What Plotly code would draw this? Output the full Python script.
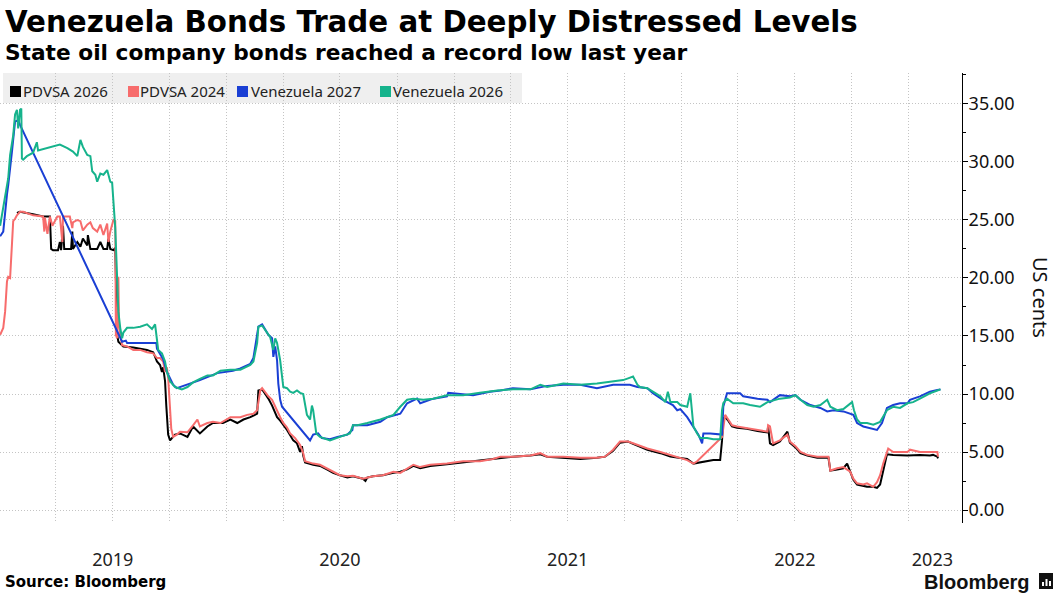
import plotly.graph_objects as go

# ---------------- data ----------------
ven26_dates = ["2019-01-02","2019-01-10","2019-01-15","2019-01-18","2019-01-23","2019-01-26","2019-01-29","2019-01-31","2019-02-03","2019-02-05","2019-02-06","2019-02-08","2019-02-14","2019-02-24","2019-03-02","2019-03-04","2019-03-19","2019-03-23","2019-04-08","2019-04-20","2019-04-29","2019-05-06","2019-05-11","2019-05-15","2019-05-22","2019-05-27","2019-05-30","2019-06-04","2019-06-07","2019-06-12","2019-06-17","2019-06-23","2019-06-25","2019-06-28","2019-07-01","2019-07-03","2019-07-06","2019-07-09","2019-07-11","2019-07-14","2019-07-17","2019-07-19","2019-07-25","2019-08-04","2019-08-15","2019-08-26","2019-09-03","2019-09-08","2019-09-11","2019-09-13","2019-09-19","2019-09-24","2019-09-27","2019-10-02","2019-10-10","2019-10-21","2019-10-30","2019-11-08","2019-11-19","2019-12-01","2019-12-10","2019-12-22","2020-01-07","2020-01-23","2020-02-08","2020-02-13","2020-02-19","2020-02-21","2020-02-27","2020-03-03","2020-03-11","2020-03-16","2020-03-19","2020-03-22","2020-03-27","2020-04-01","2020-04-07","2020-04-12","2020-04-17","2020-04-23","2020-04-28","2020-05-03","2020-05-09","2020-05-14","2020-05-17","2020-05-19","2020-05-24","2020-05-30","2020-06-15","2020-07-01","2020-07-17","2020-07-22","2020-07-29","2020-08-14","2020-09-04","2020-09-25","2020-10-06","2020-10-17","2020-10-27","2020-11-12","2020-11-28","2020-12-20","2021-01-15","2021-02-11","2021-03-11","2021-04-05","2021-05-03","2021-05-19","2021-05-30","2021-06-25","2021-07-22","2021-08-18","2021-09-13","2021-09-29","2021-10-07","2021-10-15","2021-10-22","2021-10-26","2021-11-07","2021-11-16","2021-11-28","2021-12-06","2021-12-10","2021-12-14","2021-12-25","2021-12-30","2022-01-10","2022-01-15","2022-01-18","2022-01-20","2022-01-26","2022-01-31","2022-02-11","2022-02-21","2022-03-04","2022-03-07","2022-03-09","2022-03-15","2022-03-25","2022-04-10","2022-04-21","2022-05-07","2022-05-19","2022-06-08","2022-06-24","2022-07-03","2022-07-11","2022-07-22","2022-08-01","2022-08-12","2022-08-23","2022-08-28","2022-09-08","2022-09-18","2022-10-02","2022-10-05","2022-10-10","2022-10-15","2022-10-26","2022-11-05","2022-11-16","2022-11-27","2022-12-07","2022-12-18","2022-12-30","2023-01-08","2023-01-19","2023-02-04","2023-02-16","2023-02-21"]
ven26_vals = [24.5,27.2,28.6,30.6,32.3,34.1,34.5,32.9,34.5,34.6,30.3,30.2,30.5,30.8,31.7,31.0,31.2,31.3,31.5,31.2,30.9,30.5,31.9,31.3,30.6,30.5,29.2,28.9,28.3,29.0,28.9,29.3,28.9,28.3,28.2,26.3,24.3,20.0,17.1,15.7,14.8,15.3,15.7,15.7,15.8,16.0,15.6,16.0,14.5,13.8,13.5,12.8,11.9,11.1,10.6,10.4,10.6,11.0,11.3,11.6,11.6,12.0,12.1,12.1,12.5,12.8,14.4,15.8,15.9,15.5,14.9,13.8,14.8,14.4,12.9,10.6,10.5,10.2,10.1,10.3,10.1,10.0,8.2,7.8,9.0,8.6,6.6,6.3,6.0,6.3,6.6,7.3,7.3,7.5,7.8,8.2,8.9,9.5,9.6,9.5,9.6,9.9,9.9,10.1,10.3,10.4,10.4,10.8,10.6,10.9,10.8,10.9,11.1,11.2,11.35,11.5,10.8,10.6,10.5,10.2,9.8,9.3,10.2,9.3,9.3,9.05,8.9,10.06,8.6,7.2,6.6,6.2,6.2,6.1,6.1,8.6,9.2,9.6,9.2,9.2,9.05,8.9,9.3,9.6,9.7,9.9,9.5,9.05,8.9,9.05,9.5,8.9,8.6,8.7,9.3,8.6,7.8,7.5,7.5,7.35,7.6,8.6,8.9,8.8,9.2,9.3,9.6,10.06,10.3,10.4]

ven27_dates = ["2019-01-02","2019-01-07","2019-01-13","2019-01-15","2019-01-21","2019-01-26","2019-01-31","2019-02-03","2019-07-17","2019-07-23","2019-07-25","2019-09-10","2019-09-11","2019-09-16","2019-09-21","2019-09-27","2019-10-02","2019-10-07","2019-10-13","2019-10-30","2019-11-19","2019-12-17","2020-01-11","2020-01-23","2020-02-08","2020-02-13","2020-02-19","2020-02-21","2020-02-27","2020-03-03","2020-03-08","2020-03-14","2020-03-16","2020-03-19","2020-03-22","2020-03-24","2020-03-27","2020-03-30","2020-05-14","2020-05-19","2020-05-27","2020-06-02","2020-06-15","2020-06-27","2020-07-13","2020-07-21","2020-07-22","2020-08-14","2020-09-04","2020-09-15","2020-10-06","2020-10-17","2020-11-02","2020-11-07","2020-11-28","2020-12-20","2020-12-22","2021-01-31","2021-02-27","2021-03-16","2021-04-05","2021-05-03","2021-05-30","2021-06-25","2021-07-22","2021-08-18","2021-09-13","2021-10-10","2021-10-22","2021-11-07","2021-11-16","2021-12-02","2021-12-18","2021-12-25","2021-12-30","2022-01-10","2022-01-20","2022-01-28","2022-02-03","2022-02-05","2022-02-16","2022-03-04","2022-03-07","2022-03-09","2022-03-15","2022-04-05","2022-04-10","2022-05-03","2022-05-19","2022-05-23","2022-06-08","2022-06-24","2022-07-03","2022-07-11","2022-07-27","2022-08-12","2022-08-23","2022-09-02","2022-09-18","2022-10-04","2022-10-10","2022-10-20","2022-10-31","2022-11-11","2022-11-19","2022-11-27","2022-12-07","2022-12-18","2022-12-30","2023-01-03","2023-01-19","2023-02-04","2023-02-16","2023-02-21"]
ven27_vals = [23.6,24.0,27.2,28.0,30.9,33.5,33.6,33.2,14.5,14.6,14.4,14.4,13.9,13.5,13.0,11.9,11.4,10.8,10.5,10.8,11.2,11.8,12.0,12.2,12.6,13.1,15.2,15.8,16.0,15.5,15.1,14.8,13.2,14.1,12.9,10.9,9.5,8.9,6.0,6.5,6.6,6.2,6.1,6.3,6.5,6.9,7.3,7.3,7.6,8.0,8.3,9.2,9.6,9.2,9.6,9.8,10.1,9.9,10.2,10.3,10.5,10.4,10.7,10.8,10.8,10.5,10.8,10.8,10.6,10.5,10.06,9.5,9.05,8.6,8.7,8.0,7.2,6.5,5.75,6.6,6.6,6.5,6.5,8.9,10.06,10.06,9.8,9.6,9.5,9.3,9.9,9.8,9.9,9.5,9.05,8.8,8.5,8.6,8.5,8.2,7.5,7.2,7.05,6.9,7.5,8.8,9.05,9.2,9.2,9.5,9.8,10.2,10.35,10.4]

pdvsa24_dates = ["2019-01-02","2019-01-07","2019-01-10","2019-01-13","2019-01-15","2019-01-18","2019-01-21","2019-01-23","2019-01-26","2019-01-29","2019-02-03","2019-02-08","2019-02-24","2019-03-12","2019-03-14","2019-03-15","2019-03-19","2019-03-23","2019-03-27","2019-04-04","2019-04-08","2019-04-12","2019-04-13","2019-04-24","2019-04-28","2019-04-29","2019-05-06","2019-05-11","2019-05-15","2019-05-22","2019-05-27","2019-05-31","2019-06-07","2019-06-12","2019-06-17","2019-06-23","2019-06-25","2019-06-28","2019-07-03","2019-07-06","2019-07-07","2019-07-09","2019-07-11","2019-07-12","2019-07-14","2019-07-17","2019-07-25","2019-08-04","2019-08-15","2019-08-26","2019-09-05","2019-09-11","2019-09-16","2019-09-21","2019-09-24","2019-09-27","2019-09-29","2019-10-02","2019-10-04","2019-10-07","2019-10-13","2019-10-18","2019-10-30","2019-11-08","2019-11-15","2019-11-19","2019-12-01","2019-12-10","2019-12-22","2020-01-07","2020-01-23","2020-02-03","2020-02-13","2020-02-19","2020-02-24","2020-02-27","2020-03-03","2020-03-08","2020-03-14","2020-03-19","2020-03-27","2020-04-01","2020-04-07","2020-04-12","2020-04-20","2020-04-28","2020-05-03","2020-05-06","2020-05-19","2020-05-30","2020-06-10","2020-06-20","2020-07-01","2020-07-13","2020-07-22","2020-08-07","2020-08-23","2020-09-08","2020-09-25","2020-10-06","2020-10-17","2020-10-27","2020-11-07","2020-11-23","2020-12-20","2021-01-15","2021-02-11","2021-03-04","2021-03-16","2021-04-05","2021-05-03","2021-05-19","2021-05-30","2021-06-25","2021-07-22","2021-08-18","2021-08-31","2021-09-13","2021-09-24","2021-10-07","2021-10-15","2021-11-07","2021-11-28","2021-12-14","2021-12-30","2022-01-10","2022-01-20","2022-01-26","2022-03-07","2022-03-12","2022-03-17","2022-03-23","2022-03-31","2022-04-16","2022-05-03","2022-05-19","2022-05-20","2022-05-23","2022-05-28","2022-06-08","2022-06-20","2022-06-24","2022-07-03","2022-07-11","2022-07-22","2022-08-07","2022-08-25","2022-08-28","2022-09-08","2022-09-18","2022-09-29","2022-10-04","2022-10-10","2022-10-20","2022-10-26","2022-11-05","2022-11-11","2022-11-16","2022-11-21","2022-11-27","2022-11-29","2022-12-07","2022-12-30","2023-01-03","2023-01-19","2023-02-04","2023-02-16","2023-02-17"]
pdvsa24_vals = [15.1,15.7,17.1,19.7,20.1,20.0,22.9,24.9,25.1,25.4,25.7,25.7,25.4,25.3,24.0,25.2,23.8,25.3,24.5,25.3,25.3,23.1,25.3,25.3,24.3,24.8,25.0,24.9,24.1,24.6,24.8,24.3,24.0,24.6,23.7,24.7,23.1,24.0,25.0,24.9,15.1,14.8,20.1,16.0,15.1,14.2,14.1,13.8,13.8,13.6,13.5,13.1,13.1,12.8,11.9,12.3,11.4,9.0,7.0,6.3,6.5,6.75,6.7,7.3,7.8,7.2,7.5,7.6,7.5,8.0,8.0,8.2,8.3,8.6,10.3,10.5,10.1,9.8,9.5,8.9,8.0,7.5,7.1,6.6,6.2,5.6,4.9,4.2,4.0,3.9,3.6,3.3,3.0,2.9,2.95,2.7,2.9,3.0,3.3,3.2,3.6,3.9,3.7,3.9,4.0,4.2,4.2,4.4,4.6,4.6,4.7,4.9,4.6,4.6,4.5,4.5,4.6,5.2,5.9,5.9,5.75,5.3,5.0,4.75,4.45,4.3,4.0,4.2,6.3,8.2,7.8,7.3,7.2,7.05,6.9,6.75,7.3,7.2,5.75,6.0,6.5,5.9,5.5,5.0,4.75,4.6,4.6,3.4,3.6,3.7,3.3,2.7,2.3,2.2,2.3,2.0,2.4,3.0,4.0,4.9,5.3,5.0,5.0,5.2,5.0,5.0,5.0,4.6]

pdvsa26_dates = ["2019-01-29","2019-02-03","2019-02-24","2019-03-12","2019-03-23","2019-03-25","2019-03-28","2019-04-05","2019-04-08","2019-04-10","2019-04-13","2019-04-15","2019-04-26","2019-04-28","2019-04-29","2019-05-06","2019-05-11","2019-05-15","2019-05-22","2019-05-23","2019-05-27","2019-06-07","2019-06-12","2019-06-17","2019-06-23","2019-06-25","2019-06-28","2019-07-03","2019-07-06","2019-07-09","2019-07-11","2019-07-19","2019-08-04","2019-08-26","2019-09-05","2019-09-11","2019-09-16","2019-09-19","2019-09-21","2019-09-24","2019-09-26","2019-09-29","2019-10-02","2019-10-10","2019-10-18","2019-10-30","2019-11-08","2019-11-19","2019-12-01","2019-12-10","2019-12-26","2020-01-07","2020-01-18","2020-01-28","2020-02-08","2020-02-19","2020-02-21","2020-02-27","2020-03-03","2020-03-08","2020-03-14","2020-03-22","2020-03-27","2020-04-07","2020-04-17","2020-04-23","2020-04-28","2020-05-01","2020-05-03","2020-05-06","2020-05-19","2020-05-30","2020-06-10","2020-06-20","2020-07-01","2020-07-13","2020-07-22","2020-08-07","2020-08-11","2020-08-14","2020-08-23","2020-09-08","2020-09-25","2020-10-06","2020-10-17","2020-10-27","2020-11-07","2020-11-23","2020-12-20","2021-01-15","2021-02-11","2021-03-04","2021-03-16","2021-04-05","2021-05-03","2021-05-19","2021-05-30","2021-06-25","2021-07-22","2021-08-18","2021-08-31","2021-09-13","2021-09-24","2021-10-07","2021-10-15","2021-11-07","2021-11-28","2021-12-14","2021-12-30","2022-01-10","2022-01-20","2022-01-31","2022-02-11","2022-02-21","2022-03-04","2022-03-07","2022-03-09","2022-03-12","2022-03-17","2022-03-23","2022-03-31","2022-04-16","2022-05-03","2022-05-19","2022-05-20","2022-05-23","2022-05-28","2022-06-08","2022-06-20","2022-06-24","2022-07-03","2022-07-11","2022-07-22","2022-08-07","2022-08-25","2022-08-28","2022-09-08","2022-09-18","2022-09-24","2022-09-29","2022-10-04","2022-10-10","2022-10-20","2022-10-26","2022-11-05","2022-11-11","2022-11-16","2022-11-21","2022-11-27","2022-12-07","2022-12-30","2023-01-19","2023-02-04","2023-02-09","2023-02-16","2023-02-17"]
pdvsa26_vals = [25.6,25.7,25.5,25.3,25.3,22.5,22.4,22.4,23.1,22.4,24.5,22.5,22.5,24.0,22.5,23.1,22.7,23.4,22.8,23.7,22.5,22.5,23.1,22.5,22.5,23.4,22.5,22.4,22.6,15.1,14.5,14.1,14.0,13.8,13.6,12.8,12.5,11.9,12.3,11.1,9.0,6.5,6.0,6.5,6.6,6.3,7.2,6.6,7.2,7.5,7.5,7.8,7.5,7.8,8.0,8.3,10.3,10.4,10.0,9.6,9.0,8.0,7.7,6.9,6.0,5.75,5.0,5.5,4.7,4.1,3.9,3.8,3.5,3.2,3.0,2.8,2.9,2.7,2.5,2.8,2.9,3.0,3.2,3.3,3.5,3.8,3.6,3.8,3.95,4.1,4.3,4.4,4.5,4.6,4.7,4.8,4.6,4.5,4.4,4.5,4.6,5.1,5.8,5.9,5.7,5.2,4.9,4.6,4.5,4.4,4.0,4.1,4.2,4.3,4.3,6.0,7.9,8.0,7.7,7.2,7.1,7.0,6.8,6.7,7.2,5.75,5.6,5.9,6.75,5.8,5.4,4.9,4.7,4.5,4.5,3.4,3.5,3.6,4.0,3.3,2.6,2.2,2.1,2.0,2.0,1.9,2.2,3.5,4.8,4.75,4.7,4.75,4.7,4.75,4.6,4.45]

series_names = ["PDVSA 2026", "PDVSA 2024", "Venezuela 2027", "Venezuela 2026"]
series_colors = ["#000000", "#f76c6c", "#1a3fd4", "#16b38c"]
year_tick_dates = ["2019-07-02", "2020-07-01", "2021-07-02", "2022-07-02", "2023-02-08"]
year_tick_text = ["2019", "2020", "2021", "2022", "2023"]

# ---------------- layout geometry (pixels) ----------------
W, H = 1058, 595
L, R, T, B = 0, 96, 73, 72
PW, PH = W - L - R, H - T - B


def px(x):
    return (x - L) / PW


def py(y):
    return (H - B - y) / PH


fig = go.Figure()
all_dates = [pdvsa26_dates, pdvsa24_dates, ven27_dates, ven26_dates]
all_vals = [pdvsa26_vals, pdvsa24_vals, ven27_vals, ven26_vals]
for name, color, d, v in zip(series_names, series_colors, all_dates, all_vals):
    fig.add_trace(go.Scatter(x=d, y=v, name=name, mode="lines",
                             line=dict(color=color, width=2),
                             showlegend=False, hoverinfo="skip"))

grid_col = "#c4c4c4"
grid_dash = "1px,2px"
fig.update_layout(
    width=W, height=H, autosize=False,
    margin=dict(l=L, r=R, t=T, b=B, pad=0),
    paper_bgcolor="white", plot_bgcolor="white",
    showlegend=False,
    xaxis=dict(
        type="date",
        range=["2019-01-01 19:00", "2023-03-27 14:00"],
        tickmode="array", tickvals=year_tick_dates, ticktext=year_tick_text,
        showgrid=False, zeroline=False, showline=False,
        ticks="outside", ticklen=20, tickcolor="rgba(0,0,0,0)",
        tickfont=dict(family="Noto Sans", size=18, color="#222222"),
        minor=dict(dtick="M3", tick0="2019-01-01", showgrid=True,
                   gridcolor=grid_col, griddash=grid_dash, gridwidth=1, ticks=""),
    ),
    yaxis=dict(
        side="right", range=[-1.12, 37.67],
        tick0=0, dtick=5, tickformat=".2f",
        showline=True, linecolor="#000000", linewidth=1,
        ticks="outside", ticklen=5, tickwidth=1, tickcolor="#000000",
        ticklabelstandoff=-3,
        showgrid=True, gridcolor=grid_col, griddash=grid_dash, gridwidth=1,
        zeroline=False,
        tickfont=dict(family="Noto Sans", size=18, color="#111111"),
        minor=dict(dtick=2.5, tick0=0, ticks="outside", ticklen=3,
                   tickcolor="#000000", showgrid=False),
    ),
)

shapes = []
# legend background
shapes.append(dict(type="rect", xref="paper", yref="paper",
                   x0=px(3), x1=px(522), y0=py(103), y1=py(73),
                   fillcolor="#efefef", line=dict(width=0), layer="below"))
legend_sq_x = [10, 128, 237, 380]
legend_txt_x = [22, 139, 250, 392]
for sx, c in zip(legend_sq_x, series_colors):
    shapes.append(dict(type="rect", xref="paper", yref="paper",
                       x0=px(sx), x1=px(sx + 11), y0=py(97), y1=py(86),
                       fillcolor=c, line=dict(width=0), layer="above"))
# Bloomberg logo icon
shapes.append(dict(type="rect", xref="paper", yref="paper",
                   x0=px(1039), x1=px(1053), y0=py(589), y1=py(573),
                   fillcolor="#111111", line=dict(width=0)))
for bx, top in [(1042, 582), (1045.5, 579), (1049, 581)]:
    shapes.append(dict(type="rect", xref="paper", yref="paper",
                       x0=px(bx), x1=px(bx + 2), y0=py(586), y1=py(top),
                       fillcolor="white", line=dict(width=0)))
fig.update_layout(shapes=shapes)

ann = []
ann.append(dict(text="<b>Venezuela Bonds Trade at Deeply Distressed Levels</b>",
                x=px(4), y=py(22), xref="paper", yref="paper",
                xanchor="left", yanchor="middle", showarrow=False, borderpad=0,
                font=dict(family="DejaVu Sans", size=29.3, color="#000000")))
ann.append(dict(text="<b>State oil company bonds reached a record low last year</b>",
                x=px(4), y=py(53), xref="paper", yref="paper",
                xanchor="left", yanchor="middle", showarrow=False, borderpad=0,
                font=dict(family="DejaVu Sans", size=21.7, color="#000000")))
for tx, name in zip(legend_txt_x, series_names):
    ann.append(dict(text=name, x=px(tx), y=py(91), xref="paper", yref="paper",
                    xanchor="left", yanchor="middle", showarrow=False, borderpad=0,
                    font=dict(family="Noto Sans", size=15, color="#222222")))
ann.append(dict(text="US cents", x=px(1041), y=py(297), xref="paper", yref="paper",
                xanchor="center", yanchor="middle", showarrow=False, textangle=90,
                font=dict(family="Noto Sans", size=20, color="#111111")))
ann.append(dict(text="<b>Source: Bloomberg</b>", x=px(4), y=py(582),
                xref="paper", yref="paper", xanchor="left", yanchor="middle",
                showarrow=False, borderpad=0,
                font=dict(family="DejaVu Sans", size=15, color="#000000")))
ann.append(dict(text="<b>Bloomberg</b>", x=px(1031), y=py(582),
                xref="paper", yref="paper", xanchor="right", yanchor="middle",
                showarrow=False, borderpad=0,
                font=dict(family="Liberation Sans", size=20, color="#111111")))
fig.update_layout(annotations=ann)

fig.write_html("out.html", config={"displayModeBar": False},
               post_script="document.body.style.margin='0';")
